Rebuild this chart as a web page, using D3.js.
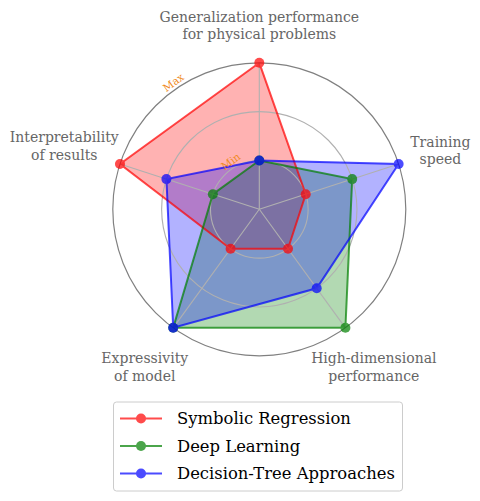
<!DOCTYPE html>
<html><head><meta charset="utf-8">
<script src="https://cdn.jsdelivr.net/npm/d3@7"></script>
<style>
html,body{margin:0;padding:0;background:#fff;}
svg{display:block;}
</style></head>
<body>
<svg id="chart" width="480" height="501" font-family="'DejaVu Serif', serif"></svg>
<script>
// ---- data ----
const axes = [
  ["Generalization performance", "for physical problems"],
  ["Training", "speed"],
  ["High-dimensional", "performance"],
  ["Expressivity", "of model"],
  ["Interpretability", "of results"]
];
const seriesNames = ["Symbolic Regression", "Deep Learning", "Decision-Tree Approaches"];
const symbolicRegression = [3, 1, 1, 1, 3];
const deepLearning       = [1, 2, 3, 3, 1];
const decisionTree       = [1, 3, 2, 3, 2];
const tickValues = [1, 2, 3];
const tickLabels = {1: "Min", 3: "Max"};

// ---- layout ----
const seriesData = [symbolicRegression, deepLearning, decisionTree];
const colors = ["#ff0000", "#008000", "#0000ff"];
const cx = 259.3, cy = 209.3, R = 146.5;
const labelRadiusFactor = [1.255, 1.30, 1.33, 1.33, 1.40];

const svg = d3.select("#chart");
const r = d3.scaleLinear().domain([0, 3]).range([0, R]);
const n = axes.length;
const angle = i => Math.PI / 2 - i * 2 * Math.PI / n;
const px = (i, v) => cx + r(v) * Math.cos(angle(i));
const py = (i, v) => cy - r(v) * Math.sin(angle(i));

const g = svg.append("g");

const fillLayer = g.append("g");
seriesData.forEach((vals, s) => {
  const pts = vals.map((v, i) => [px(i, v), py(i, v)]);
  fillLayer.append("path")
    .attr("d", d3.line()(pts) + "Z")
    .attr("fill", colors[s]).attr("fill-opacity", 0.3).attr("stroke", "none");
});

const grid = g.append("g");
tickValues.slice(0, -1).forEach(t => {
  grid.append("circle").attr("cx", cx).attr("cy", cy).attr("r", r(t))
    .attr("fill", "none").attr("stroke", "#b0b0b0").attr("stroke-width", 1.1);
});
d3.range(n).forEach(i => {
  grid.append("line").attr("x1", cx).attr("y1", cy)
    .attr("x2", px(i, 3)).attr("y2", py(i, 3))
    .attr("stroke", "#b0b0b0").attr("stroke-width", 1.1);
});
grid.append("circle").attr("cx", cx).attr("cy", cy).attr("r", r(3))
  .attr("fill", "none").attr("stroke", "#808080").attr("stroke-width", 1.2);

seriesData.forEach((vals, s) => {
  const pts = vals.map((v, i) => [px(i, v), py(i, v)]);
  const sg = g.append("g").attr("opacity", 0.7);
  sg.append("path").attr("d", d3.line()(pts) + "Z")
    .attr("fill", "none").attr("stroke", colors[s]).attr("stroke-width", 2)
    .attr("stroke-linejoin", "miter");
  sg.selectAll("circle").data(pts).join("circle")
    .attr("cx", d => d[0]).attr("cy", d => d[1]).attr("r", 5)
    .attr("fill", colors[s]);
});

const rlabDeg = 126;
const rlabAng = rlabDeg * Math.PI / 180;
Object.keys(tickLabels).forEach(k => {
  const rr = r(+k) + 7;
  const x = cx + rr * Math.cos(rlabAng), y = cy - rr * Math.sin(rlabAng);
  g.append("text").attr("transform", `translate(${x},${y}) rotate(${-(rlabDeg - 90)})`)
    .attr("x", 5)
    .attr("text-anchor", "middle").attr("dominant-baseline", "central")
    .attr("font-size", 10.5).attr("fill", "#f08a24").text(tickLabels[k]);
});

axes.forEach((lines, i) => {
  const rr = R * labelRadiusFactor[i];
  const x = cx + rr * Math.cos(angle(i)), y = cy - rr * Math.sin(angle(i));
  const t = g.append("text").attr("text-anchor", "middle")
    .attr("font-size", 14).attr("fill", "#666");
  lines.forEach((ln, j) => {
    t.append("tspan").attr("x", x).attr("y", y + (j - 0.5) * 17.5 + 5).text(ln);
  });
});

const lg = svg.append("g");
lg.append("rect").attr("x", 113.5).attr("y", 402).attr("width", 289).attr("height", 89)
  .attr("rx", 3).attr("fill", "#fff").attr("stroke", "#cccccc").attr("stroke-width", 1);
seriesNames.forEach((name, s) => {
  const y = 418.5 + s * 27.5;
  const row = lg.append("g");
  const mg = row.append("g").attr("opacity", 0.7);
  mg.append("line").attr("x1", 120).attr("x2", 162).attr("y1", y).attr("y2", y)
    .attr("stroke", colors[s]).attr("stroke-width", 2);
  mg.append("circle").attr("cx", 141).attr("cy", y).attr("r", 5).attr("fill", colors[s]);
  row.append("text").attr("x", 177).attr("y", y).attr("dominant-baseline", "central")
    .attr("font-size", 16.4).attr("fill", "#000").text(name);
});
</script>
</body></html>
